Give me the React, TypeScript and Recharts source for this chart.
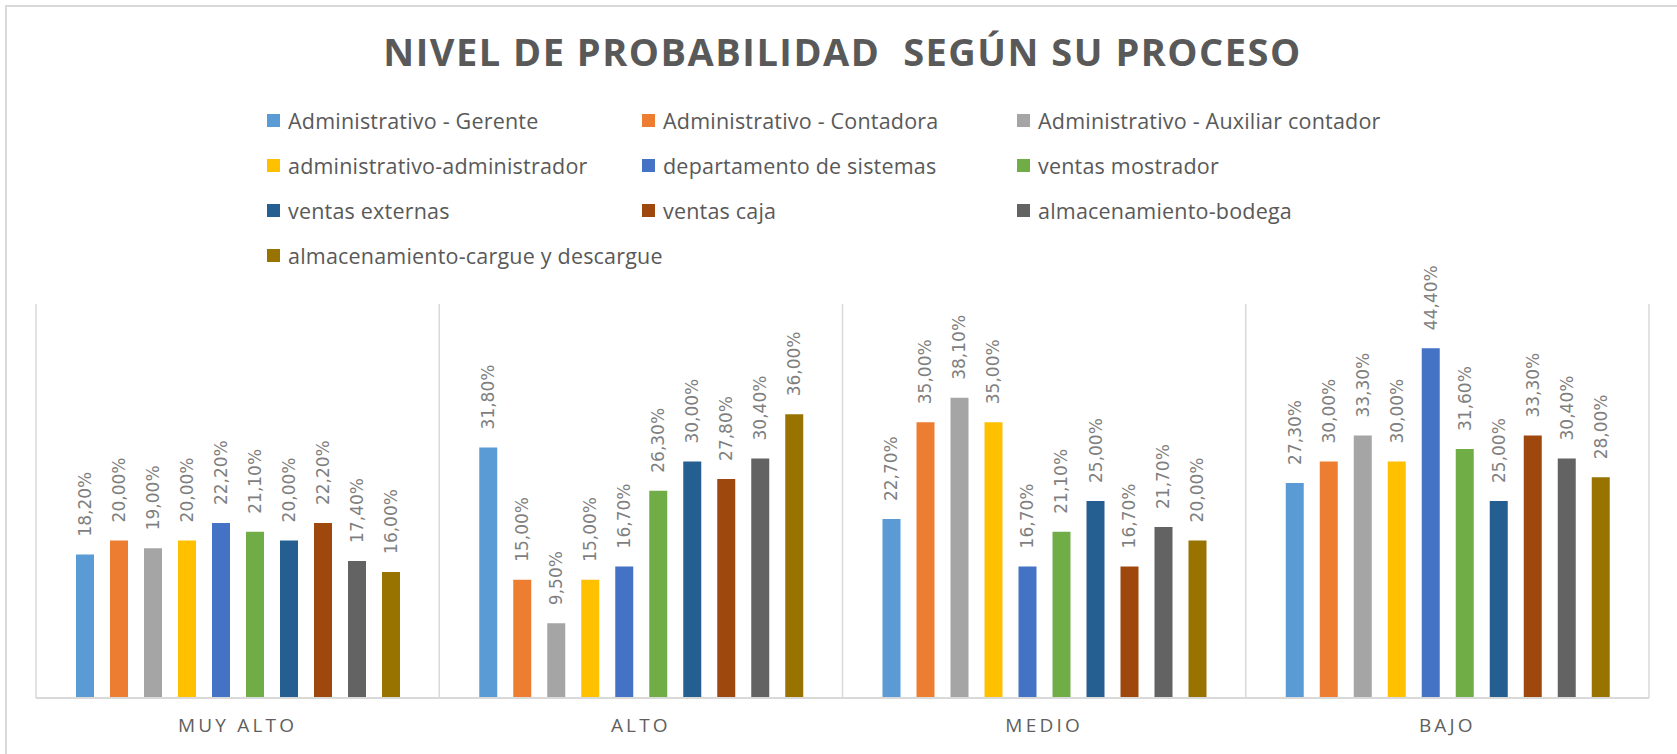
import React from 'react'
import { BarChart, Bar, XAxis, YAxis, CartesianGrid, LabelList, Legend } from 'recharts'

const categories = ['MUY ALTO', 'ALTO', 'MEDIO', 'BAJO']

const seriesNames = [
  'Administrativo - Gerente',
  'Administrativo - Contadora',
  'Administrativo - Auxiliar contador',
  'administrativo-administrador',
  'departamento de sistemas',
  'ventas mostrador',
  'ventas externas',
  'ventas caja',
  'almacenamiento-bodega',
  'almacenamiento-cargue y descargue',
]

const seriesColors = [
  '#5B9BD5', '#ED7D31', '#A5A5A5', '#FFC000', '#4472C4',
  '#70AD47', '#255E91', '#9E480E', '#636363', '#997300',
]

// porcentajes por nivel (MUY ALTO, ALTO, MEDIO, BAJO)
const gerente = [18.2, 31.8, 22.7, 27.3]
const contadora = [20.0, 15.0, 35.0, 30.0]
const auxiliar = [19.0, 9.5, 38.1, 33.3]
const administrador = [20.0, 15.0, 35.0, 30.0]
const sistemas = [22.2, 16.7, 16.7, 44.4]
const mostrador = [21.1, 26.3, 21.1, 31.6]
const externas = [20.0, 30.0, 25.0, 25.0]
const caja = [22.2, 27.8, 16.7, 33.3]
const bodega = [17.4, 30.4, 21.7, 30.4]
const cargue = [16.0, 36.0, 20.0, 28.0]

const seriesValues = [gerente, contadora, auxiliar, administrador, sistemas, mostrador, externas, caja, bodega, cargue]

const data = categories.map((name, i) => {
  const row: Record<string, string | number> = { name }
  seriesValues.forEach((vals, s) => { row['s' + s] = vals[i] })
  return row
})

const W = 1677
const H = 754

function fmtPct(v: number) {
  return v.toFixed(2).replace('.', ',') + '%'
}

function RotLabel(props: any) {
  const { x, y, width, value } = props
  const cx = x + width / 2
  const ty = y - 18
  return (
    <text
      x={cx}
      y={ty}
      transform={`rotate(-90, ${cx}, ${ty})`}
      textAnchor="start"
      dominantBaseline="central"
      fill="#7f7f7f"
      fontSize={17}
      fontFamily="DejaVu Sans"
    >
      {fmtPct(value)}
    </text>
  )
}

function CatTick(props: any) {
  const { x, y, payload } = props
  return (
    <text
      x={x}
      y={y + 27}
      textAnchor="middle"
      dominantBaseline="central"
      fill="#5f5f5f"
      fontSize={19}
      fontFamily="Open Sans"
      letterSpacing={3.2}
    >
      {payload.value}
    </text>
  )
}

// leyenda en el orden de las series (sin ordenar alfabéticamente)
function LegendGrid() {
  return (
    <div style={{ display: 'grid', gridTemplateColumns: 'repeat(3, 375px)', fontFamily: 'Open Sans', fontSize: 21.5, letterSpacing: 0.2, color: '#595959' }}>
      {seriesNames.map((n, s) => (
        <div key={n} style={{ height: 45, display: 'flex', alignItems: 'center', whiteSpace: 'nowrap' }}>
          <span style={{ width: 13, height: 13, background: seriesColors[s], marginRight: 8, flex: 'none' }} />
          <span>{n}</span>
        </div>
      ))}
    </div>
  )
}

export default function App() {
  return (
    <div style={{ position: 'absolute', left: 0, top: 0, width: W, height: H, overflow: 'hidden', background: '#fff' }}>
      <div style={{ position: 'absolute', left: 5, top: 5, width: W + 20, height: H + 20, border: '2px solid #d9d9d9' }} />
      <div
        style={{
          position: 'absolute', left: 36, top: 32, width: 1613, textAlign: 'center',
          fontFamily: 'Open Sans', fontWeight: 700, fontSize: 38, lineHeight: '38px',
          letterSpacing: 1.5, color: '#595959', whiteSpace: 'pre',
        }}
      >
        NIVEL DE PROBABILIDAD  SEGÚN SU PROCESO
      </div>
      <BarChart
        width={W}
        height={H}
        data={data}
        margin={{ top: 304, right: 28, left: 36, bottom: 16 }}
        barSize={18}
        barGap={16}
      >
        <CartesianGrid
          horizontal={false}
          stroke="#d9d9d9"
          strokeWidth={1.5}
          verticalCoordinatesGenerator={({ offset }: any) =>
            Array.from({ length: categories.length + 1 }, (_, i) => offset.left + (i * offset.width) / categories.length)
          }
        />
        <XAxis
          dataKey="name"
          height={40}
          tickLine={false}
          tickSize={0}
          tickMargin={0}
          axisLine={{ stroke: '#d9d9d9', strokeWidth: 2 }}
          tick={<CatTick />}
        />
        <YAxis hide domain={[0, 50]} />
        <Legend
          verticalAlign="middle"
          align="center"
          wrapperStyle={{ position: 'absolute', top: 98, left: 267, width: 1170, height: 180 }}
          content={<LegendGrid />}
        />
        {seriesNames.map((n, s) => (
          <Bar key={n} dataKey={'s' + s} name={n} fill={seriesColors[s]} isAnimationActive={false}>
            <LabelList dataKey={'s' + s} content={<RotLabel />} />
          </Bar>
        ))}
      </BarChart>
    </div>
  )
}
